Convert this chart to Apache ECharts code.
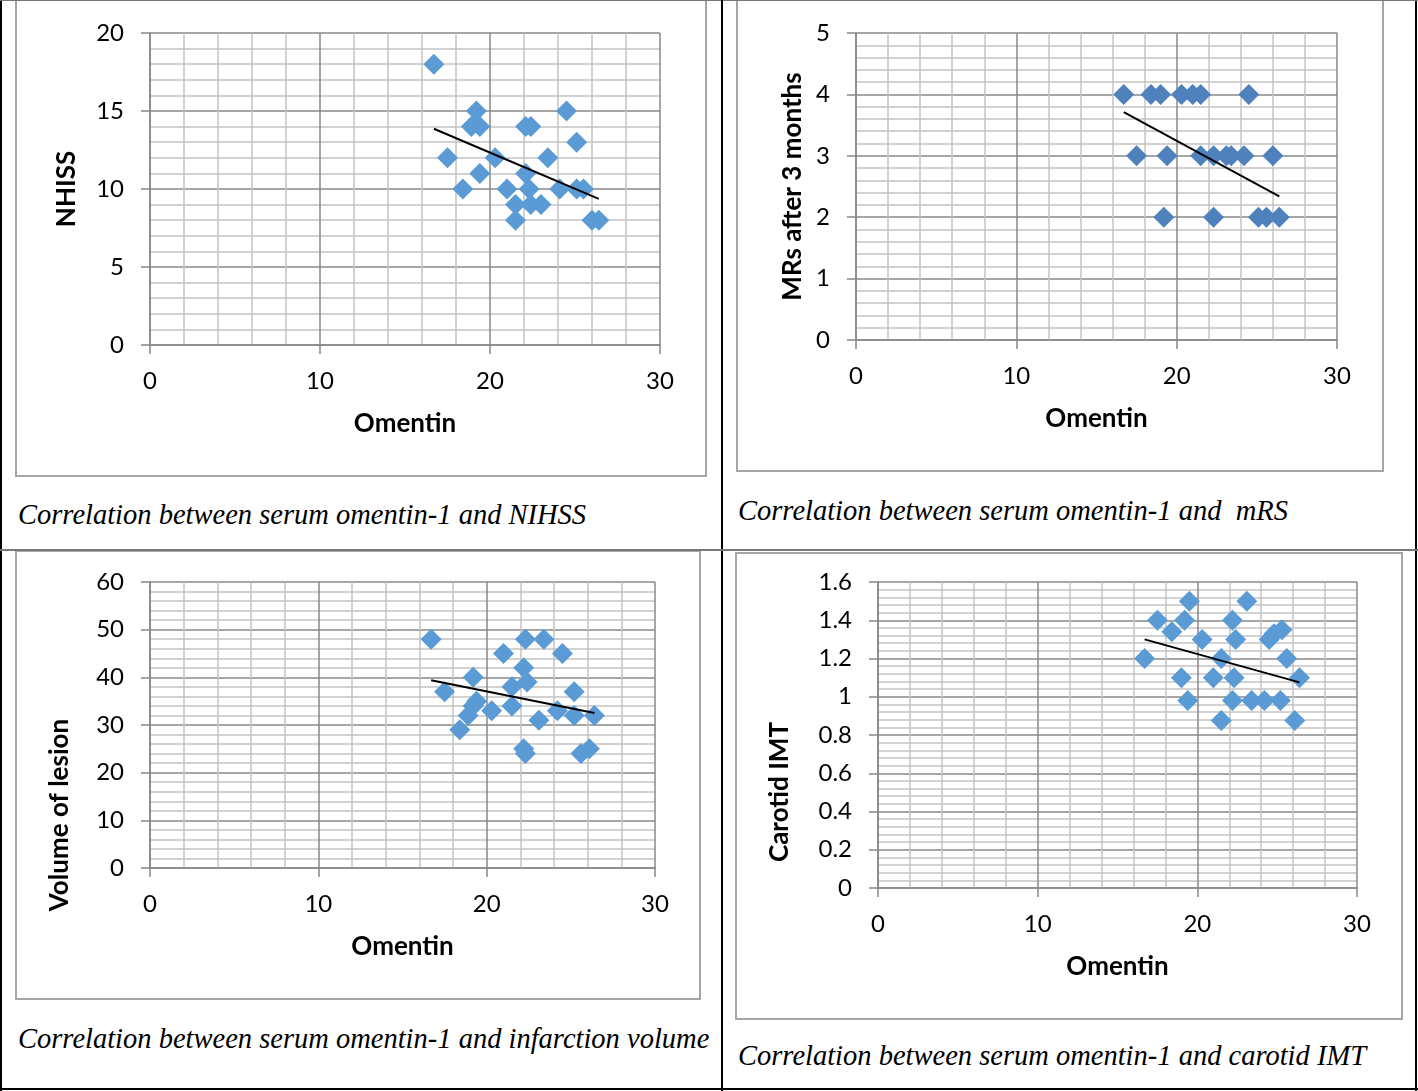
<!DOCTYPE html>
<html>
<head>
<meta charset="utf-8">
<script src="https://cdn.jsdelivr.net/npm/echarts@6/dist/echarts.min.js"></script>
<style>
html,body{margin:0;padding:0;background:#fff;}
#page{position:relative;width:1418px;height:1091px;overflow:hidden;background:#fff;}
.box{position:absolute;border:2px solid #a6a6a6;box-sizing:border-box;}
.line{position:absolute;background:#000;}
.cap{position:absolute;font-family:"Liberation Serif","DejaVu Serif",serif;font-style:italic;font-size:28.5px;color:#000;white-space:pre;line-height:1;}
#chart{position:absolute;left:0;top:0;width:1418px;height:1091px;}
</style>
</head>
<body>
<div id="page">
  <div class="box" style="left:15px;top:-2px;width:692px;height:479px;"></div>
  <div class="box" style="left:736px;top:-2px;width:648px;height:474px;"></div>
  <div class="box" style="left:15px;top:550px;width:686px;height:450px;"></div>
  <div class="box" style="left:735px;top:552px;width:668px;height:468px;"></div>
  <div class="line" style="left:0;top:0;width:2px;height:1091px;"></div>
  <div class="line" style="left:1415px;top:0;width:2px;height:1091px;"></div>
  <div class="line" style="left:0;top:1088px;width:1418px;height:2px;"></div>
  <div class="line" style="left:0;top:0;width:1418px;height:1px;background:#777;"></div>
  <div class="line" style="left:721px;top:0;width:2px;height:1091px;"></div>
  <div class="line" style="left:0;top:549px;width:1418px;height:2px;background:#777;"></div>
  <div class="cap" style="left:18px;top:501px;">Correlation between serum omentin-1 and NIHSS</div>
  <div class="cap" style="left:738px;top:497px;">Correlation between serum omentin-1 and  mRS</div>
  <div class="cap" style="left:18px;top:1025px;">Correlation between serum omentin-1 and infarction volume</div>
  <div class="cap" style="left:738px;top:1042px;">Correlation between serum omentin-1 and carotid IMT</div>
  <div id="chart"></div>
</div>
<script>
// ---- Data ----
const xTicks = [0, 10, 20, 30];

const omentinNIHSS = [16.7, 19.2, 18.9, 19.4, 22.1, 22.4, 24.5, 25.1, 17.5, 20.3, 23.4, 19.4, 22.1, 18.4, 21.0, 22.3, 24.1, 25.1, 25.5, 21.5, 22.4, 23.0, 21.5, 26.0, 26.4];
const nihss        = [18,   15,   14,   14,   14,   14,   15,   13,   12,   12,   12,   11,   11,   10,   10,   10,   10,   10,   10,   9,    9,    9,    8,    8,    8];
const trendNIHSS_x = [16.7, 26.4];
const trendNIHSS_y = [13.86, 9.37];
const yTicksNIHSS  = [0, 5, 10, 15, 20];

const omentinMRS = [16.7, 18.4, 19.0, 20.3, 21.0, 21.5, 24.5, 17.5, 19.4, 21.5, 22.3, 23.1, 23.4, 24.2, 26.0, 19.2, 22.3, 25.1, 25.6, 26.4];
const mrs        = [4,    4,    4,    4,    4,    4,    4,    3,    3,    3,    3,    3,    3,    3,    3,    2,    2,    2,    2,    2];
const trendMRS_x = [16.7, 26.4];
const trendMRS_y = [3.71, 2.34];
const yTicksMRS  = [0, 1, 2, 3, 4, 5];

const omentinVol = [16.7, 22.3, 23.4, 21.0, 24.5, 22.2, 19.2, 22.4, 21.5, 17.5, 25.2, 19.4, 19.2, 21.5, 20.3, 18.9, 24.2, 25.2, 26.4, 23.1, 18.4, 22.2, 22.3, 25.6, 26.1];
const volume     = [48,   48,   48,   45,   45,   42,   40,   39,   38,   37,   37,   35,   34,   34,   33,   32,   33,   32,   32,   31,   29,   25,   24,   24,   25];
const trendVol_x = [16.7, 26.4];
const trendVol_y = [39.4, 32.5];
const yTicksVol  = [0, 10, 20, 30, 40, 50, 60];

const omentinIMT = [19.5, 23.1, 17.5, 19.2, 22.2, 18.4, 20.3, 22.4, 24.5, 24.8, 25.3, 16.7, 21.5, 25.6, 19.0, 21.0, 22.3, 26.4, 19.4, 22.2, 23.4, 24.2, 25.2, 21.5, 26.1];
const imt        = [1.5,  1.5,  1.4,  1.4,  1.4,  1.34, 1.3,  1.3,  1.3,  1.33, 1.35, 1.2,  1.2,  1.2,  1.1,  1.1,  1.1,  1.1,  0.98, 0.98, 0.98, 0.98, 0.98, 0.876, 0.876];
const trendIMT_x = [16.7, 26.4];
const trendIMT_y = [1.3, 1.075];
const yTicksIMT  = [0, 0.2, 0.4, 0.6, 0.8, 1, 1.2, 1.4, 1.6];

// ---- Build ----
const zip = (a, b) => a.map((v, i) => [v, b[i]]);
const panels = [
  {grid:{left:150, top:33, width:510, height:312}, ticks:yTicksNIHSS, xs:omentinNIHSS, ys:nihss, tx:trendNIHSS_x, ty:trendNIHSS_y, yname:'NHISS', ygap:70, yshift:0, color:'#5B9BD5'},
  {grid:{left:856, top:33, width:481, height:307}, ticks:yTicksMRS, xs:omentinMRS, ys:mrs, tx:trendMRS_x, ty:trendMRS_y, yname:'MRs after 3 months', ygap:50, yshift:0, color:'#4F81BD'},
  {grid:{left:150, top:582, width:505, height:286}, ticks:yTicksVol, xs:omentinVol, ys:volume, tx:trendVol_x, ty:trendVol_y, yname:'Volume of lesion', ygap:77, yshift:90, color:'#5B9BD5'},
  {grid:{left:878, top:582, width:479, height:306}, ticks:yTicksIMT, xs:omentinIMT, ys:imt, tx:trendIMT_x, ty:trendIMT_y, yname:'Carotid IMT', ygap:85, yshift:57, color:'#5B9BD5'}
];

const majorColor = '#888888';
const minorColor = '#c4c4c4';
const labelFont = {fontFamily:'Lato', fontSize:24, color:'#000'};
const nameFont = {fontFamily:'Lato', fontSize:26, fontWeight:'bold', color:'#000'};

const option = {animation:false, grid:[], xAxis:[], yAxis:[], series:[]};
panels.forEach((p, i) => {
  option.grid.push(Object.assign({containLabel:false}, p.grid));
  const common = {
    type:'value', gridIndex:i,
    axisLine:{show:true, lineStyle:{color:majorColor, width:1.5}},
    axisTick:{show:true, inside:false, length:9, lineStyle:{color:majorColor, width:1.5}},
    splitLine:{show:true, lineStyle:{color:majorColor, width:1.5}},
    minorTick:{show:false, splitNumber:5},
    minorSplitLine:{show:true, lineStyle:{color:minorColor, width:1.5}},
    nameLocation:'middle'
  };
  option.xAxis.push(Object.assign({}, common, {
    min:xTicks[0], max:xTicks[xTicks.length-1], interval:xTicks[1]-xTicks[0],
    name:'Omentin', nameGap:66, nameTextStyle:nameFont,
    axisLabel:Object.assign({margin:24}, labelFont)
  }));
  const yi = p.ticks[1] - p.ticks[0];
  option.yAxis.push(Object.assign({}, common, {
    min:p.ticks[0], max:p.ticks[p.ticks.length-1], interval:yi,
    name:p.yname, nameGap:p.ygap, nameRotate:90,
    nameTextStyle:Object.assign({padding:[0, 2 * p.yshift, 0, 0]}, nameFont),
    axisLabel:Object.assign({margin:26, formatter:v => String(+v.toFixed(2))}, labelFont)
  }));
  option.series.push({
    type:'scatter', xAxisIndex:i, yAxisIndex:i, symbol:'diamond', symbolSize:21,
    itemStyle:{color:p.color, opacity:1}, data:zip(p.xs, p.ys), z:3
  });
  option.series.push({
    type:'line', xAxisIndex:i, yAxisIndex:i, showSymbol:false, symbol:'none',
    lineStyle:{color:'#000', width:2}, data:zip(p.tx, p.ty), z:4, silent:true
  });
});

const chart = echarts.init(document.getElementById('chart'), null, {renderer:'canvas'});
chart.setOption(option);
</script>
</body>
</html>
